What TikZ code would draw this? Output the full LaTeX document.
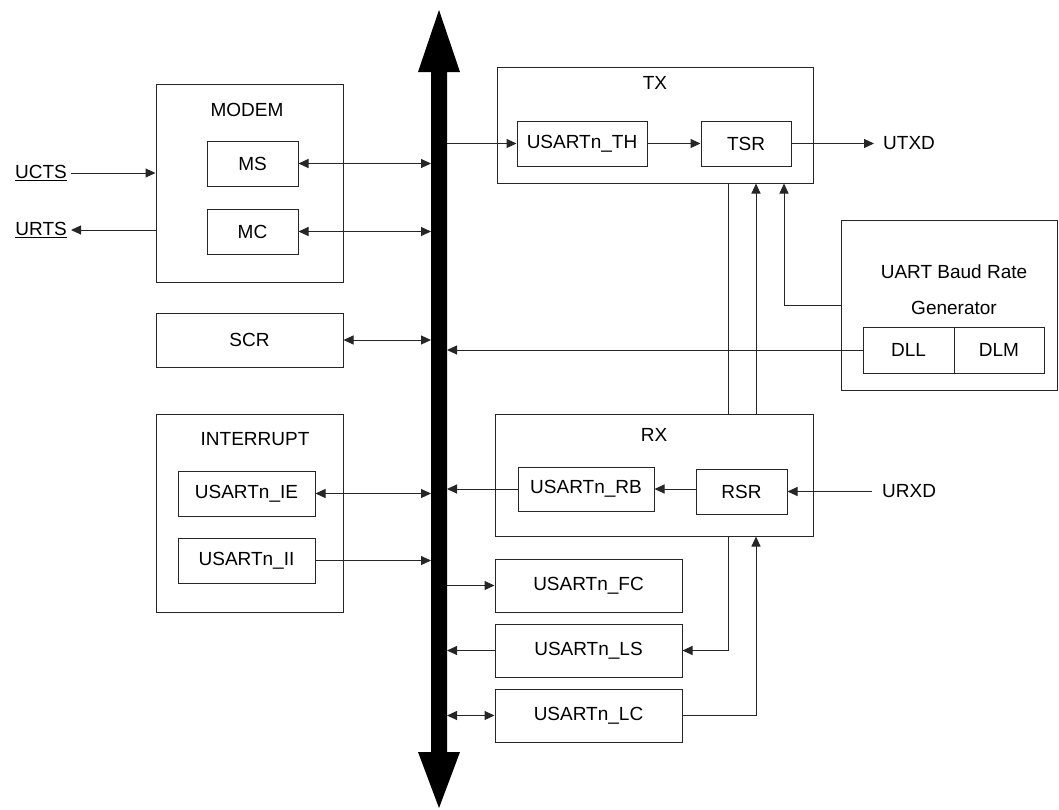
\documentclass[tikz,border=0pt]{standalone}
\usepackage{fontspec}
\setmainfont{Liberation Sans}
\usetikzlibrary{arrows.meta,calc}
\begin{document}
\begin{tikzpicture}[x=1pt,y=-1pt,
  box/.style={draw=black!85,line width=1pt,rectangle,inner sep=0pt,font=\fontsize{19}{22}\selectfont},
  lbl/.style={inner sep=0pt,font=\fontsize{19}{22}\selectfont},
  wire/.style={draw=black!85,line width=1pt},
  tip/.style={-{Triangle[length=10pt,width=9pt]}},
  dtip/.style={{Triangle[length=10pt,width=9pt]}-{Triangle[length=10pt,width=9pt]}}
]
\useasboundingbox (0,0) rectangle (1059,809);
% bus
\coordinate (busL) at (431,400);
\coordinate (busR) at (447,400);
\fill[black] (439,10) -- (460,72) -- (447,72) -- (447,752) -- (460,752) -- (439,808)
  -- (418,752) -- (431,752) -- (431,72) -- (418,72) -- cycle;
% MODEM
\node[box,minimum width=187,minimum height=198] (modem) at (249.5,183) {};
\node[lbl] (modemt) at (247,110) {MODEM};
\node[box,minimum width=91,minimum height=45] (ms) at (252.5,163.5) {MS};
\node[box,minimum width=91,minimum height=45] (mc) at (252.5,231.5) {MC};
\node[lbl,anchor=east] (ucts) at (67,173) {\underline{UCTS}};
\node[lbl,anchor=east] (urts) at (67,230) {\underline{URTS}};
% SCR
\node[box,minimum width=187,minimum height=54] (scr) at (249.5,340) {SCR};
% INTERRUPT
\node[box,minimum width=187,minimum height=198] (intr) at (249.5,513) {};
\node[lbl] (intrt) at (255,439) {INTERRUPT};
\node[box,minimum width=137,minimum height=45] (ie) at (246.5,493.5) {USARTn\_IE};
\node[box,minimum width=137,minimum height=45] (ii) at (246.5,560.5) {USARTn\_II};
% TX
\node[box,minimum width=316,minimum height=116] (tx) at (655,125) {};
\node[lbl] (txt) at (655,83) {TX};
\node[box,minimum width=130,minimum height=45] (th) at (582,143.5) {USARTn\_TH};
\node[box,minimum width=90,minimum height=45] (tsr) at (746,143.5) {TSR};
\node[lbl,anchor=west] (utxd) at (883,143.5) {UTXD};
% Baud
\node[box,minimum width=216,minimum height=170] (baud) at (949,305) {};
\node[lbl] (baudt1) at (954,272) {UART Baud Rate};
\node[lbl] (baudt2) at (954,308) {Generator};
\node[box,minimum width=91,minimum height=46] (dll) at (908.5,350) {DLL};
\node[box,minimum width=90,minimum height=46] (dlm) at (999,350) {DLM};
% RX
\node[box,minimum width=318,minimum height=122] (rx) at (654,475) {};
\node[lbl] (rxt) at (654,435) {RX};
\node[box,minimum width=136,minimum height=44] (rb) at (586,489) {USARTn\_RB};
\node[box,minimum width=91,minimum height=45] (rsr) at (741.5,491.5) {RSR};
\node[lbl,anchor=west] (urxd) at (882,491.5) {URXD};
% registers
\node[box,minimum width=187,minimum height=53] (fc) at (588.5,585.5) {USARTn\_FC};
\node[box,minimum width=187,minimum height=53] (ls) at (588.5,650.5) {USARTn\_LS};
\node[box,minimum width=187,minimum height=53] (lc) at (588.5,715.5) {USARTn\_LC};
% helper coordinates
\coordinate (ctsin) at (modem.west |- ucts);
\coordinate (rtsout) at (modem.west |- urts);
\coordinate (ctsout) at ($(ucts.east)+(4,0)$);
\coordinate (rtsin) at ($(urts.east)+(4,0)$);
\coordinate (utxdin) at (874,143.5);
\coordinate (urxdout) at (872,491.5);
\coordinate (by) at (0,305);
\coordinate (baudout) at (baud.west |- by);
\coordinate (bx) at (784,305);
\coordinate (lsx) at (728,650.5);
\coordinate (lcx) at (756,715.5);
% connectors
\draw[wire,tip] (ctsout) -- (ctsin);
\draw[wire,tip] (rtsout) -- (rtsin);
\draw[wire,dtip] (ms.east) -- (ms.east -| busL);
\draw[wire,dtip] (mc.east) -- (mc.east -| busL);
\draw[wire,dtip] (scr.east) -- (scr.east -| busL);
\draw[wire,dtip] (ie.east) -- (ie.east -| busL);
\draw[wire,tip] (ii.east) -- (ii.east -| busL);
\draw[wire,tip] (th.west -| busR) -- (th.west);
\draw[wire,tip] (th.east) -- (tsr.west);
\draw[wire,tip] (tsr.east) -- (utxdin);
\draw[wire,tip] (dll.west) -- (dll.west -| busR);
\draw[wire,tip] (baudout) -- (bx) -- (bx |- tx.south);
\draw[wire] (tx.south -| lsx) -- (rx.north -| lsx);
\draw[wire,tip] (rx.north -| lcx) -- (tx.south -| lcx);
\draw[wire,tip] (rb.west) -- (rb.west -| busR);
\draw[wire,tip] (rsr.west |- rb.east) -- (rb.east);
\draw[wire,tip] (urxdout) -- (rsr.east);
\draw[wire,tip] (fc.west -| busR) -- (fc.west);
\draw[wire,tip] (ls.west) -- (ls.west -| busR);
\draw[wire,dtip] (lc.west -| busR) -- (lc.west);
\draw[wire,tip] (rx.south -| lsx) -- (lsx) -- (ls.east);
\draw[wire,tip] (lc.east) -- (lcx) -- (rx.south -| lcx);
\end{tikzpicture}
\end{document}
